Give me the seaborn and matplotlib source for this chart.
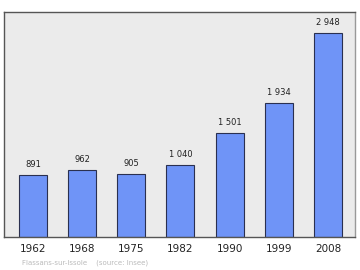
import matplotlib
matplotlib.use("Agg")
import matplotlib.pyplot as plt
import seaborn as sns
import pandas as pd

years = ["1962", "1968", "1975", "1982", "1990", "1999", "2008"]
population = [891, 962, 905, 1040, 1501, 1934, 2948]
value_labels = ["891", "962", "905", "1 040", "1 501", "1 934", "2 948"]

df = pd.DataFrame({"year": years, "pop": population})

sns.set_theme(style="white")
plt.rcParams['font.family'] = ['DejaVu Sans']

fig = plt.figure(figsize=(3.6, 2.7), dpi=100)
ax = fig.add_axes([0.011, 0.122, 0.975, 0.834])
ax.set_facecolor("#ebebeb")
sns.barplot(data=df, x="year", y="pop", color="#6f94f7", saturation=1,
            edgecolor="#2a3050", linewidth=0.8, width=0.57, ax=ax)
ax.set_xlim(-0.59, 6.55)
ax.set_ylim(0, 3250)
ax.set_yticks([])
ax.set_xlabel("")
ax.set_ylabel("")
ax.tick_params(axis="x", length=0, labelsize=7.5, colors="#222222", pad=5)
for s in ["left", "top", "bottom"]:
    ax.spines[s].set_color("#555555")
    ax.spines[s].set_linewidth(1.0)
ax.spines["right"].set_color("#999999")
ax.spines["right"].set_linewidth(1.0)

for i, (v, lab) in enumerate(zip(population, value_labels)):
    ax.annotate(lab, (i, v), xytext=(0, 4.5), textcoords="offset points",
                ha="center", va="bottom", fontsize=6, color="#222222")

fig.text(22/360, 1 - 263/270, "Flassans-sur-Issole    (source: Insee)",
         fontsize=5, color="#bbbbbb", ha="left", va="center")

fig.savefig("out.png", dpi=100)
